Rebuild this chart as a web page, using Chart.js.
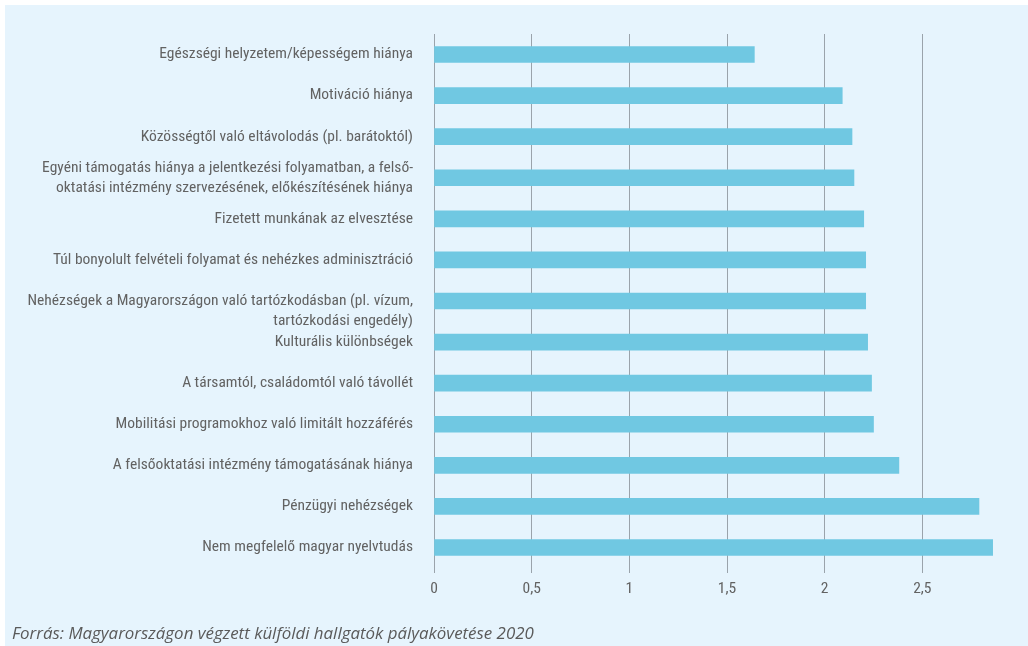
<!DOCTYPE html>
<html>
<head>
<meta charset="utf-8">
<script src="https://cdn.jsdelivr.net/npm/chart.js@4/dist/chart.umd.min.js"></script>
<style>
  body { margin: 0; background: #ffffff; }
  #panel { position: absolute; left: 5px; top: 5px; width: 1023px; height: 641px; background: #e6f4fd; overflow: hidden; }
  #canvas { position: absolute; left: 0; top: 0; }
  #forras { position: absolute; left: 7px; top: 616px; font: italic 16.9px "Open Sans", sans-serif; color: #5a5a5a; white-space: nowrap; }
</style>
</head>
<body>
<div id="panel">
  <canvas id="canvas" width="1023" height="641"></canvas>
  <div id="forras">Forrás: Magyarországon végzett külföldi hallgatók pályakövetése 2020</div>
</div>
<script>
var categories = [
  "Egészségi helyzetem/képességem hiánya",
  "Motiváció hiánya",
  "Közösségtől való eltávolodás (pl. barátoktól)",
  ["Egyéni támogatás hiánya a jelentkezési folyamatban, a felső-", "oktatási intézmény szervezésének, előkészítésének hiánya"],
  "Fizetett munkának az elvesztése",
  "Túl bonyolult felvételi folyamat és nehézkes adminisztráció",
  ["", "Nehézségek a Magyarországon való tartózkodásban (pl. vízum,", "tartózkodási engedély)"],
  "Kulturális különbségek",
  "A társamtól, családomtól való távollét",
  "Mobilitási programokhoz való limitált hozzáférés",
  "A felsőoktatási intézmény támogatásának hiánya",
  "Pénzügyi nehézségek",
  "Nem megfelelő magyar nyelvtudás"
];
var values = [1.64, 2.09, 2.14, 2.15, 2.2, 2.21, 2.21, 2.22, 2.24, 2.25, 2.38, 2.79, 2.86];
var tickValues = [0, 0.5, 1, 1.5, 2, 2.5];

var labelFont = { family: "'Roboto Condensed', sans-serif", size: 15.5, lineHeight: 1.3 };

new Chart(document.getElementById("canvas"), {
  type: 'bar',
  data: {
    labels: categories,
    datasets: [{
      data: values,
      backgroundColor: "#70c8e2",
      barThickness: 16
    }]
  },
  options: {
    indexAxis: 'y',
    responsive: false,
    animation: false,
    layout: { padding: { top: 29, right: 8, left: 0, bottom: 0 } },
    plugins: {
      legend: { display: false },
      tooltip: { enabled: false }
    },
    scales: {
      x: {
        min: 0,
        max: 3,
        afterBuildTicks: function(axis){
          axis.ticks = tickValues.map(function(v){ return { value: v }; });
        },
        afterFit: function(scale){ scale.height = 78; },
        grid: { color: "#9aa3ab", lineWidth: 1, tickLength: 5, drawTicks: true },
        border: { display: false },
        ticks: {
          color: "#626262",
          font: labelFont,
          padding: 6,
          callback: function(v){ return String(v).replace('.', ','); }
        }
      },
      y: {
        afterFit: function(scale){ scale.width = 429; },
        grid: { display: false },
        border: { display: false },
        ticks: {
          color: "#626262",
          font: labelFont,
          padding: 13,
          autoSkip: false
        }
      }
    }
  }
});
</script>
</body>
</html>
